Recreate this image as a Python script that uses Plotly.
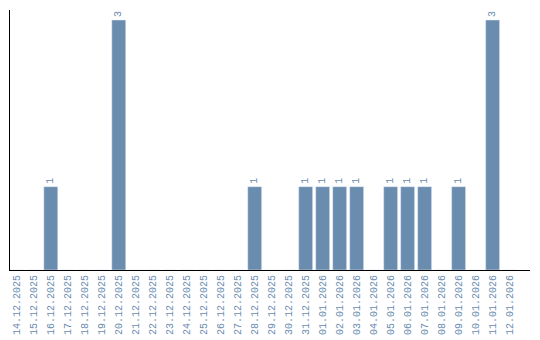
import plotly.graph_objects as go

dates = ["14.12.2025", "15.12.2025", "16.12.2025", "17.12.2025", "18.12.2025", "19.12.2025",
         "20.12.2025", "21.12.2025", "22.12.2025", "23.12.2025", "24.12.2025", "25.12.2025",
         "26.12.2025", "27.12.2025", "28.12.2025", "29.12.2025", "30.12.2025", "31.12.2025",
         "01.01.2026", "02.01.2026", "03.01.2026", "04.01.2026", "05.01.2026", "06.01.2026",
         "07.01.2026", "08.01.2026", "09.01.2026", "10.01.2026", "11.01.2026", "12.01.2026"]
counts = [0, 0, 1, 0, 0, 0, 3, 0, 0, 0, 0, 0, 0, 0, 1, 0, 0, 1, 1, 1, 1, 0, 1, 1, 1, 0, 1, 0, 3, 0]

color = "#6a8caf"
labels = [str(v) if v > 0 else "" for v in counts]

fig = go.Figure(go.Bar(
    x=dates, y=counts, marker_color=color, text=labels, textposition="outside",
    textangle=-90, cliponaxis=False,
    textfont=dict(family="Liberation Mono", size=10, color=color),
))
fig.update_layout(
    width=540, height=340, margin=dict(l=10, r=10, t=10, b=70),
    plot_bgcolor="white", paper_bgcolor="white", bargap=0.18, showlegend=False,
)
fig.update_xaxes(type="category", range=[-0.4, 30.2], showline=True, linecolor="black",
                 linewidth=1, showgrid=False, ticks="", tickangle=-90, automargin=False,
                 tickfont=dict(family="Liberation Mono", size=10, color=color))
fig.update_yaxes(range=[0, 3.12], showline=True, linecolor="black", linewidth=1,
                 showgrid=False, showticklabels=False, ticks="", zeroline=False,
                 automargin=False)
fig.write_html("out.html")
